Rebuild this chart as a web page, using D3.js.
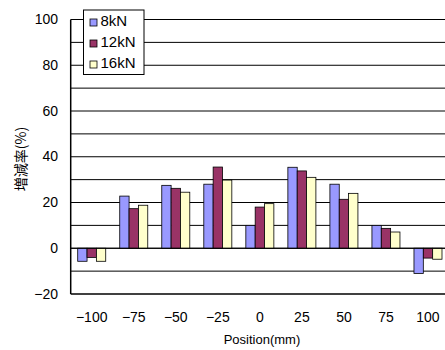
<!DOCTYPE html>
<html>
<head>
<meta charset="utf-8">
<script src="https://cdn.jsdelivr.net/npm/d3@7"></script>
<style>
  html, body { margin: 0; padding: 0; background: #fff; }
  svg { display: block; }
  text { font-family: "Liberation Sans", Arial, sans-serif; fill: #000; }
</style>
</head>
<body>
<div id="chart"></div>
<script>
// Positions along the specimen (mm)
const positions = ["-100", "-75", "-50", "-25", "0", "25", "50", "75", "100"];
// Load cases
const seriesNames = ["8kN", "12kN", "16kN"];
const seriesColors = ["#9999FF", "#993366", "#FFFFCC"];
// Rate of change (%) per load case
const values8kN  = [-5.7, 22.8, 27.5, 28.0, 10.0, 35.4, 28.0, 10.0, -11.0];
const values12kN = [-4.0, 17.3, 26.2, 35.5, 18.0, 33.8, 21.4, 8.7, -4.3];
const values16kN = [-5.7, 18.8, 24.5, 29.8, 19.5, 31.0, 24.0, 7.1, -4.8];
const yTicks = [-20, 0, 20, 40, 60, 80, 100];
const yGrid = [-10, 0, 10, 20, 30, 40, 50, 60, 70, 80, 90, 100];

const W = 445, H = 350;
const svg = d3.select("#chart").append("svg").attr("width", W).attr("height", H);

const x0 = d3.scaleBand().domain(positions).range([70.7, 449]).paddingInner(1 / 3).paddingOuter(1 / 6);
const x1 = d3.scaleBand().domain(seriesNames).range([0, x0.bandwidth()]);
const y = d3.scaleLinear().domain([-20, 100]).range([294, 19.5]);

const rows = positions.map((p, i) => ({
  pos: p,
  vals: [values8kN[i], values12kN[i], values16kN[i]]
}));

// horizontal gridlines
svg.append("g").selectAll("line").data(yGrid).join("line")
  .attr("x1", 70.7).attr("x2", 449)
  .attr("y1", d => y(d)).attr("y2", d => y(d))
  .attr("stroke", "#000").attr("stroke-width", 1);

// bars
const groups = svg.append("g").selectAll("g").data(rows).join("g")
  .attr("transform", d => `translate(${x0(d.pos)},0)`);
groups.selectAll("rect").data(d => d.vals.map((v, k) => ({ v, k }))).join("rect")
  .attr("x", d => x1(seriesNames[d.k]))
  .attr("width", x1.bandwidth())
  .attr("y", d => Math.min(y(d.v), y(0)))
  .attr("height", d => Math.abs(y(d.v) - y(0)))
  .attr("fill", d => seriesColors[d.k])
  .attr("stroke", "#000").attr("stroke-width", 0.8);

// axes lines
svg.append("line").attr("x1", 70.7).attr("x2", 449).attr("y1", y(0)).attr("y2", y(0))
  .attr("stroke", "#000").attr("stroke-width", 1.2);
svg.append("line").attr("x1", 70.7).attr("x2", 449).attr("y1", y(-20)).attr("y2", y(-20))
  .attr("stroke", "#000").attr("stroke-width", 1.5);
svg.append("line").attr("x1", 70.7).attr("x2", 70.7).attr("y1", y(100)).attr("y2", y(-20))
  .attr("stroke", "#000").attr("stroke-width", 1.5);

// y tick labels
svg.append("g").selectAll("text").data(yTicks).join("text")
  .attr("x", 58).attr("y", d => y(d) + 1)
  .attr("text-anchor", "end").attr("dominant-baseline", "middle")
  .style("font-size", "14px")
  .text(d => d < 0 ? "\u2212" + Math.abs(d) : d);

// x tick labels
svg.append("g").selectAll("text").data(positions).join("text")
  .attr("x", d => x0(d) + x0.bandwidth() / 2).attr("y", 321.5)
  .attr("text-anchor", "middle")
  .style("font-size", "14px")
  .text(d => d.replace("-", "\u2212"));

// axis titles
svg.append("text").attr("x", 262).attr("y", 344).attr("text-anchor", "middle")
  .style("font-size", "13px").text("Position(mm)");
svg.append("text")
  .attr("transform", "translate(25.5,159) rotate(-90)")
  .attr("text-anchor", "middle")
  .style("font-size", "14px")
  .style("font-family", "'Noto Sans CJK JP', sans-serif")
  .text("増減率(%)");

// legend
const lg = svg.append("g");
lg.append("rect").attr("x", 83.5).attr("y", 10).attr("width", 60.5).attr("height", 64.5)
  .attr("fill", "#fff").attr("stroke", "#000").attr("stroke-width", 1);
seriesNames.forEach((name, k) => {
  const cy = 22.5 + k * 21;
  lg.append("rect").attr("x", 90).attr("y", cy - 3.5).attr("width", 7).attr("height", 7)
    .attr("fill", seriesColors[k]).attr("stroke", "#000").attr("stroke-width", 0.8);
  lg.append("text").attr("x", 100.5).attr("y", cy).attr("dominant-baseline", "middle")
    .style("font-size", "15px").text(name);
});
</script>
</body>
</html>
